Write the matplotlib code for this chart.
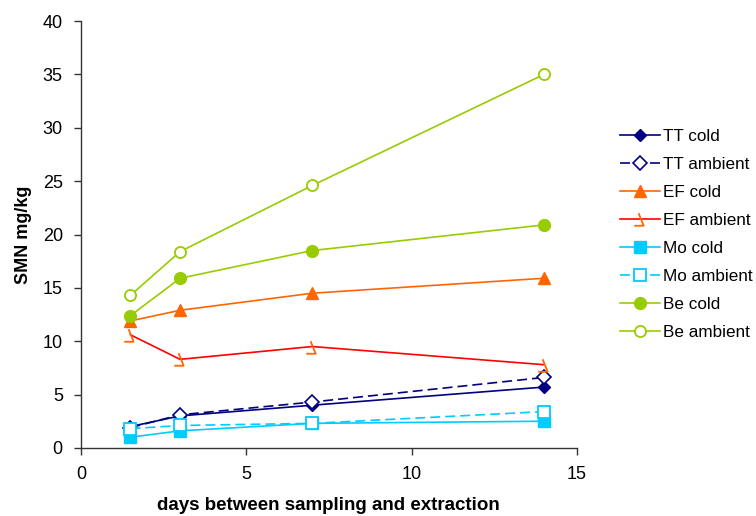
import matplotlib
matplotlib.use("Agg")
import matplotlib.pyplot as plt
from matplotlib.path import Path

plt.rcParams['font.family'] = ['Liberation Sans', 'DejaVu Sans']

days = [1.5, 3, 7, 14]
tt_cold = [2.0, 3.0, 4.0, 5.7]
tt_ambient = [1.9, 3.1, 4.3, 6.6]
ef_cold = [11.9, 12.9, 14.5, 15.9]
ef_ambient = [10.6, 8.3, 9.5, 7.8]
mo_cold = [1.0, 1.6, 2.3, 2.5]
mo_ambient = [1.8, 2.1, 2.3, 3.4]
be_cold = [12.4, 15.9, 18.5, 20.9]
be_ambient = [14.3, 18.4, 24.6, 35.0]

navy = '#000080'
orange = '#FF6600'
red = '#FF0000'
cyan = '#00CCFF'
green = '#99CC00'

ef_marker = Path([(-0.3, 1.0), (0.5, -1.0), (-1.0, -1.0)],
                 [Path.MOVETO, Path.LINETO, Path.LINETO])

fig = plt.figure(figsize=(7.56, 5.16), dpi=100)
ax = fig.add_axes([0.107, 0.132, 0.656, 0.827])

ax.plot(days, tt_cold, color=navy, lw=1.2, marker='D', ms=6.5, mfc=navy, mec=navy, label='TT cold')
ax.plot(days, tt_ambient, color=navy, lw=1.2, ls=(0, (6, 3)), marker='D', ms=7, mfc='white', mec=navy, mew=1.2, label='TT ambient')
ax.plot(days, ef_cold, color=orange, lw=1.2, marker='^', ms=9, mfc=orange, mec=orange, label='EF cold')
ax.plot(days, ef_ambient, color=red, lw=1.2, marker=ef_marker, ms=9, mfc='none', mec=orange, mew=1.3, label='EF ambient')
ax.plot(days, mo_cold, color=cyan, lw=1.2, marker='s', ms=8, mfc=cyan, mec=cyan, label='Mo cold')
ax.plot(days, mo_ambient, color=cyan, lw=1.2, ls=(0, (6, 3)), marker='s', ms=8, mfc='white', mec=cyan, mew=1.3, label='Mo ambient')
ax.plot(days, be_cold, color=green, lw=1.2, marker='o', ms=8.5, mfc=green, mec=green, label='Be cold')
ax.plot(days, be_ambient, color=green, lw=1.2, marker='o', ms=8, mfc='white', mec=green, mew=1.3, label='Be ambient')

ax.set_xlim(0, 15)
ax.set_ylim(0, 40)
ax.set_xticks([0, 5, 10, 15])
ax.set_yticks(range(0, 41, 5))
ax.spines['top'].set_visible(False)
ax.spines['right'].set_visible(False)
for s in ['left', 'bottom']:
    ax.spines[s].set_color('#333333')
    ax.spines[s].set_linewidth(1.0)
ax.tick_params(direction='out', length=5, width=1.0, colors='#333333', labelcolor='black',
               labelsize=13, pad=8)
ax.set_xlabel('days between sampling and extraction', fontsize=13.5, fontweight='bold', labelpad=10)
ax.set_ylabel('SMN mg/kg', fontsize=13, fontweight='bold', labelpad=8)

leg = ax.legend(loc='center left', bbox_to_anchor=(1.087, 0.5), frameon=False, fontsize=12.3,
                handlelength=2.35, labelspacing=0.76, handletextpad=0.15, borderaxespad=0,
                borderpad=0)

fig.savefig('out.png', dpi=100)
